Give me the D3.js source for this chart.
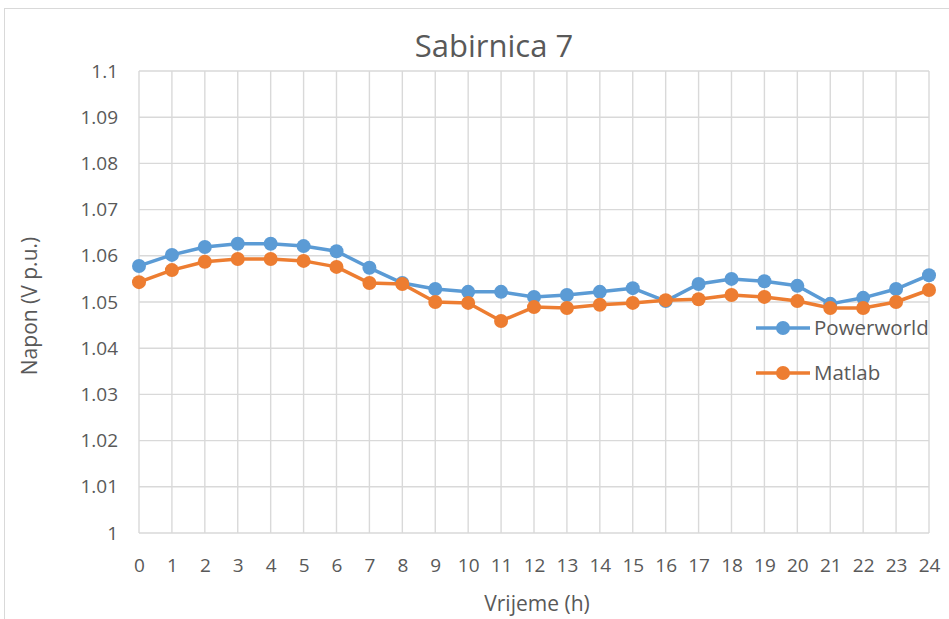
<!DOCTYPE html>
<html><head><meta charset="utf-8">
<script src="https://cdn.jsdelivr.net/npm/d3@7"></script>
<style>body{margin:0;background:#fff}svg{display:block}</style>
</head><body>
<script>
const hours = d3.range(0, 25);
const powerworld = [1.0578,1.0602,1.0619,1.0626,1.0626,1.0621,1.0610,1.0574,1.0541,1.0528,1.0522,1.0522,1.0511,1.0515,1.0522,1.0530,1.0502,1.0539,1.0550,1.0545,1.0535,1.0496,1.0509,1.0528,1.0558];
const matlab = [1.0543,1.0569,1.0587,1.0593,1.0593,1.0589,1.0576,1.0541,1.0539,1.0500,1.0498,1.0459,1.0489,1.0487,1.0494,1.0498,1.0504,1.0506,1.0515,1.0511,1.0502,1.0487,1.0487,1.0500,1.0526];
const yTicks = [1,1.01,1.02,1.03,1.04,1.05,1.06,1.07,1.08,1.09,1.1];
const seriesNames = ["Powerworld","Matlab"];
const colors = ["#5B9BD5","#ED7D31"];

const W=949,H=619;
const svg=d3.select("body").append("svg").attr("width",W).attr("height",H);
const font="'Open Sans', Lato, sans-serif";
svg.append("rect").attr("x",4.5).attr("y",8.5).attr("width",960).attr("height",640).attr("fill","#fff").attr("stroke","#D9D9D9");

const x=d3.scaleLinear().domain([0,24]).range([139,929]);
const y=d3.scaleLinear().domain([1,1.1]).range([533,71]);

// gridlines
svg.append("g").selectAll("line").data(yTicks).join("line")
 .attr("x1",139).attr("x2",929).attr("y1",d=>y(d)).attr("y2",d=>y(d))
 .attr("stroke","#D9D9D9").attr("stroke-width",1.4);
svg.append("g").selectAll("line").data(hours).join("line")
 .attr("x1",d=>x(d)).attr("x2",d=>x(d)).attr("y1",71).attr("y2",533)
 .attr("stroke","#D9D9D9").attr("stroke-width",1.4);

const yAxis=svg.append("g").attr("transform","translate(139,0)")
 .call(d3.axisLeft(y).tickValues(yTicks).tickFormat(d=>d3.format("")(+d.toFixed(2))).tickSize(0).tickPadding(21));
yAxis.select(".domain").remove();
yAxis.selectAll("text").attr("fill","#595959").style("font-family",font).style("font-size","19px");

const xAxis=svg.append("g").attr("transform","translate(0,533)")
 .call(d3.axisBottom(x).tickValues(hours).tickFormat(d3.format("d")).tickSize(0).tickPadding(26));
xAxis.select(".domain").remove();
xAxis.selectAll("text").attr("fill","#595959").style("font-family",font).style("font-size","19px");

svg.append("text").attr("x",494).attr("y",57).attr("text-anchor","middle")
 .attr("fill","#595959").style("font-family",font).style("font-size","31px").text("Sabirnica 7");
svg.append("text").attr("x",537).attr("y",611).attr("text-anchor","middle")
 .attr("fill","#595959").style("font-family",font).style("font-size","21px").text("Vrijeme (h)");
svg.append("text").attr("transform","translate(37,306) rotate(-90)").attr("text-anchor","middle")
 .attr("fill","#595959").style("font-family",font).style("font-size","21px").text("Napon (V p.u.)");

const line=d3.line().x((d,i)=>x(hours[i])).y(d=>y(d));
[powerworld,matlab].forEach((s,k)=>{
  const g=svg.append("g");
  g.append("path").datum(s).attr("d",line).attr("fill","none").attr("stroke",colors[k]).attr("stroke-width",3.5).attr("stroke-linejoin","round");
  g.selectAll("circle").data(s).join("circle").attr("cx",(d,i)=>x(hours[i])).attr("cy",d=>y(d)).attr("r",7).attr("fill",colors[k]);
});

// legend
seriesNames.forEach((n,k)=>{
  const ly=328+k*45;
  const g=svg.append("g");
  g.append("line").attr("x1",756).attr("x2",810).attr("y1",ly).attr("y2",ly).attr("stroke",colors[k]).attr("stroke-width",3.5);
  g.append("circle").attr("cx",783).attr("cy",ly).attr("r",7).attr("fill",colors[k]);
  g.append("text").attr("x",814).attr("y",ly+7).attr("fill","#595959").style("font-family",font).style("font-size","20.5px").text(n);
});
</script>
</body></html>
